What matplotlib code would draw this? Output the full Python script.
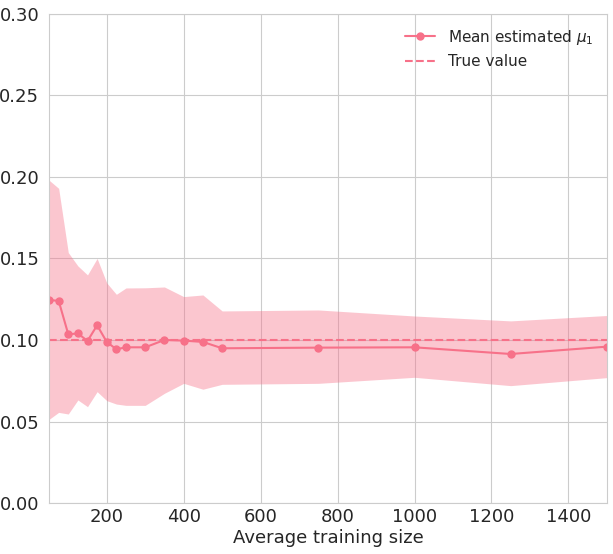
import matplotlib
matplotlib.use("Agg")
import matplotlib.pyplot as plt
import seaborn as sns

sns.set_style("whitegrid")

# training sizes and the estimates
sizes = [50, 75, 100, 125, 150, 175, 200, 225, 250, 300, 350, 400, 450, 500, 750, 1000, 1250, 1500]
mean_mu = [0.1245, 0.124, 0.1035, 0.104, 0.0994, 0.109, 0.0988, 0.0943, 0.0955, 0.0955,
           0.100, 0.0996, 0.0988, 0.0949, 0.0953, 0.0955, 0.0914, 0.0959]
upper = [0.198, 0.193, 0.1536, 0.1454, 0.1399, 0.150, 0.135, 0.128, 0.1319, 0.132,
         0.1325, 0.1266, 0.1276, 0.1178, 0.1184, 0.1147, 0.1117, 0.115]
lower = [0.0513, 0.0556, 0.0546, 0.0632, 0.0591, 0.0683, 0.0628, 0.0607, 0.0599, 0.0599,
         0.0673, 0.0734, 0.0698, 0.0728, 0.0734, 0.0771, 0.072, 0.0769]
true_mu = 0.1

col = "#f77189"

fig = plt.figure(figsize=(6.13, 5.54), dpi=100)
ax = fig.add_axes([0.08, 0.092, 0.91, 0.883])

ax.fill_between(sizes, lower, upper, color=col, alpha=0.4, linewidth=0)
ax.plot(sizes, mean_mu, marker="o", markersize=5, color=col, linewidth=1.5,
        label=r"Mean estimated $\mu_1$")
ax.axhline(true_mu, color=col, linestyle="--", linewidth=1.5, label="True value")

ax.set_xlim(50, 1500)
ax.set_ylim(0, 0.3)
ax.set_yticks([0, 0.05, 0.1, 0.15, 0.2, 0.25, 0.3])
ax.set_yticklabels(["0.00", "0.05", "0.10", "0.15", "0.20", "0.25", "0.30"])
ax.set_xticks([200, 400, 600, 800, 1000, 1200, 1400])
ax.tick_params(labelsize=13)
ax.tick_params(axis="x", pad=0)
ax.set_xlabel("Average training size", fontsize=13, labelpad=2)
ax.legend(loc="upper right", fontsize=11, frameon=False)

fig.savefig("out.png", dpi=100)
